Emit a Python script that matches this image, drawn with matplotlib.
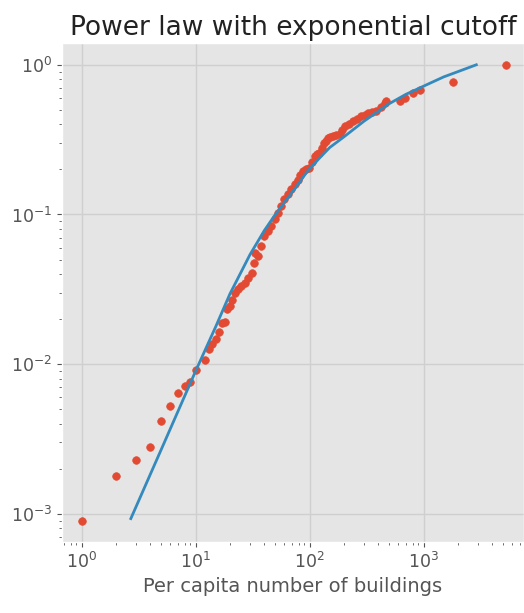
import matplotlib
matplotlib.use("Agg")
import matplotlib.pyplot as plt

plt.style.use('ggplot')

# empirical points (per capita buildings vs cumulative share)
pts_x = [1, 2, 3, 4, 5, 6, 7, 8, 9, 10, 12, 13, 14, 15, 16, 17, 18, 19, 20, 21,
         22, 23.5, 25, 27, 29, 31, 32.4, 33, 35, 37.5, 40, 43, 46, 49.5, 53, 56.5,
         60, 64.5, 69, 74, 79, 83, 87.5, 93, 98, 104, 111, 116, 122, 128, 135, 140,
         145, 152, 160, 170, 183, 193, 203, 220, 240, 262, 284, 305, 325, 355, 385,
         420, 455, 470, 615, 680, 805, 922, 1807, 5310]
pts_y = [0.0009, 0.00178, 0.00229, 0.00281, 0.00417, 0.00525, 0.00638, 0.00717,
         0.00755, 0.00916, 0.0106, 0.0126, 0.0137, 0.0148, 0.0163, 0.0187, 0.019,
         0.0233, 0.0245, 0.0267, 0.030, 0.0316, 0.0333, 0.035, 0.0378, 0.0409,
         0.0476, 0.0555, 0.0527, 0.062, 0.0717, 0.078, 0.0836, 0.093, 0.1026, 0.114,
         0.126, 0.136, 0.147, 0.159, 0.171, 0.183, 0.194, 0.200, 0.205, 0.225,
         0.245, 0.252, 0.258, 0.28, 0.30, 0.31, 0.325, 0.33, 0.335, 0.338, 0.345,
         0.365, 0.388, 0.40, 0.419, 0.436, 0.453, 0.465, 0.476, 0.482, 0.489, 0.52,
         0.555, 0.57, 0.57, 0.60, 0.647, 0.681, 0.766, 0.99]

# fitted curve
fit_x = [2.7, 5, 10, 15, 20, 30, 40, 50, 60, 75, 93.5, 122, 150, 200, 300, 500,
         700, 1000, 1500, 2000, 2900]
fit_y = [0.00093, 0.0027, 0.009, 0.0178, 0.0295, 0.054, 0.078, 0.100, 0.12, 0.15,
         0.19, 0.238, 0.28, 0.33, 0.42, 0.55, 0.635, 0.72, 0.83, 0.9, 1.0]

fig = plt.figure(figsize=(5.24, 6.13), dpi=100)
ax = fig.add_axes([0.118, 0.116, 0.882, 0.814])

ax.scatter(pts_x, pts_y, s=30, color='#E24A33', zorder=3)
ax.plot(fit_x, fit_y, color='#348ABD', lw=2, zorder=4)

ax.set_xscale('log')
ax.set_yscale('log')
ax.set_xlim(0.67, 7600)
ax.set_ylim(6.5e-4, 1.4)

ax.grid(True, which='major', color='#cfcfcf', lw=1)
ax.set_facecolor('#e5e5e5')
ax.tick_params(which='both', colors='#555555', labelsize=12.5)

ax.set_title('Power law with exponential cutoff', fontsize=19, color='#222222')
ax.set_xlabel('Per capita number of buildings', fontsize=14, color='#555555')

fig.savefig('out.png', dpi=100)
